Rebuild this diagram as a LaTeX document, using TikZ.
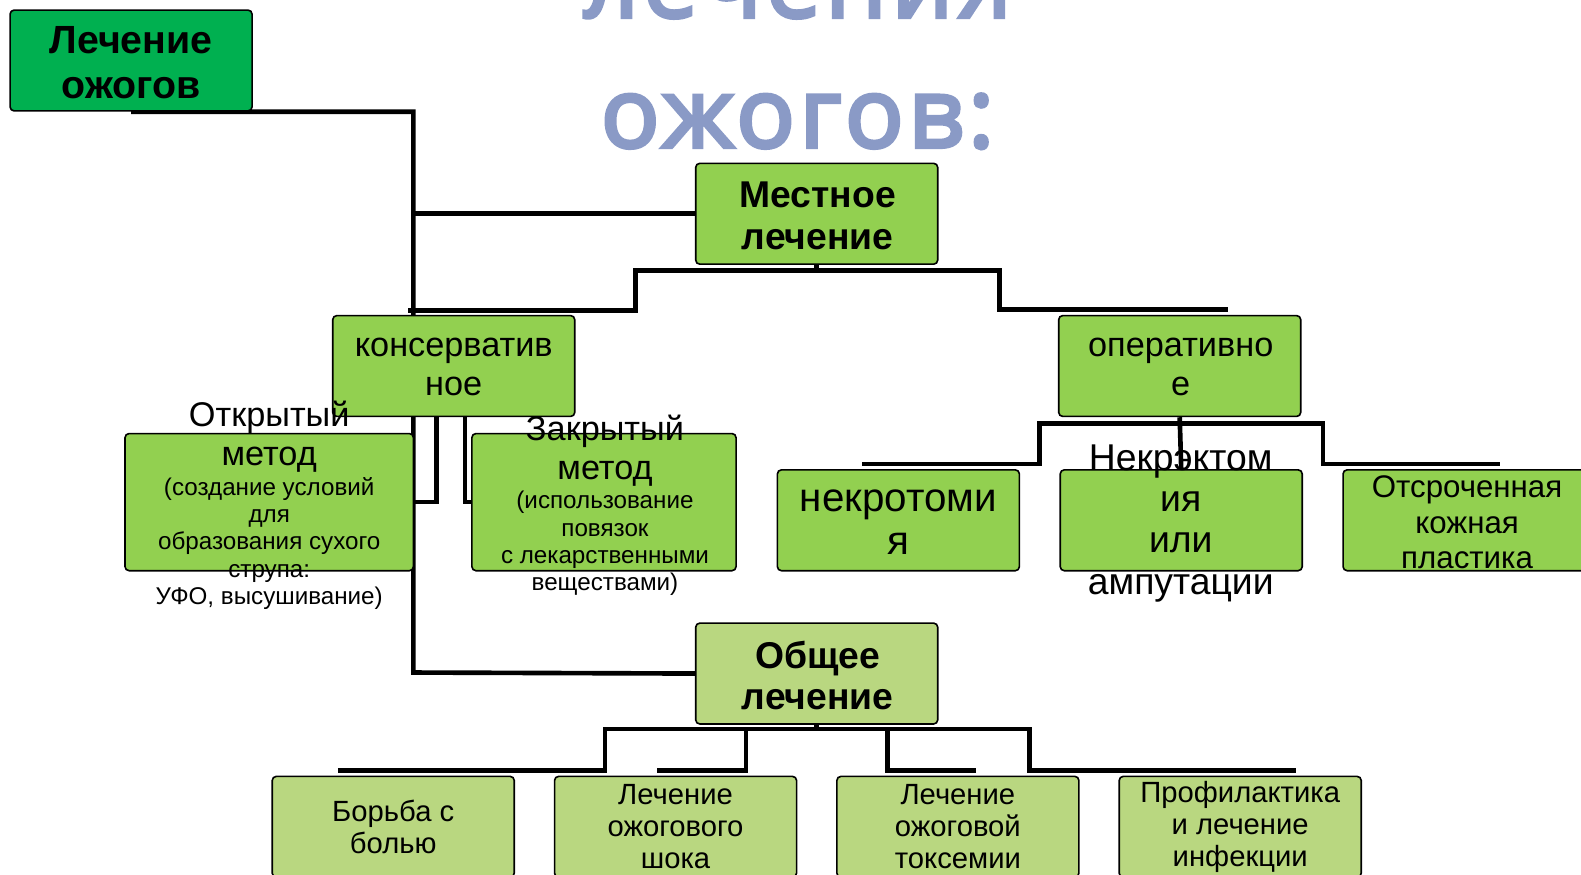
\documentclass[tikz,border=0pt]{standalone}
\usepackage{fontspec}
\setmainfont{Liberation Sans}
\newfontfamily\titlefont[LetterSpace=5, FakeBold=4]{Open Sans}
\usepackage{tikz}
\usetikzlibrary{positioning}
\usetikzlibrary{calc,backgrounds}

\definecolor{darkgr}{HTML}{00B050}
\definecolor{midgr}{HTML}{92D050}
\definecolor{palegr}{HTML}{B9D780}
\definecolor{titleblue}{HTML}{8A9AC6}

\tikzset{
  box/.style={draw=black, line width=0.8pt, rounded corners=2pt, minimum width=120pt, minimum height=50pt, inner sep=0pt},
  lbl/.style={align=center, inner sep=0pt},
  link/.style={line width=2.3pt},
  ttl/.style={font=\titlefont\fontsize{48}{48}\selectfont, text=titleblue, inner sep=0pt, anchor=base},
}

\begin{document}
\begin{tikzpicture}[x=0.5pt, y=-0.5pt]
 \useasboundingbox (0,0) rectangle (1568,867);
 \clip (0,0) rectangle (1568,867);

 % title
 \node[ttl] (t1) at (791,17) {лечения};
 \node[ttl] (t2) at (791,146) {ожогов:};

 % level 1
 \node[box, fill=darkgr] (root) at (130,60) {};
 \node[box, fill=midgr] (mest) at (810,212) {};
 \node[box, fill=palegr] (obsh) at (810,668) {};

 % level 2
 \node[box, fill=midgr] (kons) at (450,363) {};
 \node[box, fill=midgr] (oper) at (1170,363) {};

 % level 3
 \node[box, fill=midgr, minimum width=143pt, minimum height=68pt] (otkr) at (267,498) {};
 \node[box, fill=midgr, minimum width=131pt, minimum height=68pt] (zakr) at (599,498) {};
 \foreach \i/\n in {0/nekrot, 1/nekrekt, 2/otsr}
   \node[box, fill=midgr] (\n) at (891+\i*280.5,516) {};

 % bottom row
 \foreach \i/\n in {0/b1, 1/b2, 2/b3, 3/b4}
   \node[box, fill=palegr] (\n) at (390+\i*280,820) {};

 % texts
 \node[lbl, font=\bfseries\fontsize{19.5}{22}\selectfont] (troot) at (130,62) {Лечение\\ожогов};
 \node[lbl, font=\bfseries\fontsize{18.5}{20.5}\selectfont] (tmest) at (811,214) {Местное\\лечение};
 \node[lbl, font=\bfseries\fontsize{18.5}{20.5}\selectfont] (tobsh) at (811,670) {Общее\\лечение};
 \node[lbl, font=\fontsize{17}{19.5}\selectfont] (tkons) at (450,364) {консерватив\\ное};
 \node[lbl, font=\fontsize{17}{19.5}\selectfont] (toper) at (1171,364) {оперативно\\е};
 \node[lbl, font=\fontsize{20}{21.5}\selectfont] (tnekrot) at (891,518) {некротоми\\я};
 \node[lbl, font=\fontsize{18.5}{20.5}\selectfont] (tnekrekt) at (1171,519) {Некрэктом\\ия\\или\\ампутации};
 \node[lbl, font=\fontsize{15.5}{17.5}\selectfont] (totsr) at (1455,518) {Отсроченная\\кожная\\пластика};

 \node[lbl, font=\fontsize{17}{19.5}\selectfont] (totkr) at (267,433) {Открытый\\метод};
 \node[lbl, font=\fontsize{12}{13.5}\selectfont] (dotkr) at (267,539) {(создание условий\\для\\образования сухого\\струпа:\\УФО, высушивание)};
 \node[lbl, font=\fontsize{17}{19.5}\selectfont] (tzakr) at (600,447) {Закрытый\\метод};
 \node[lbl, font=\fontsize{12}{13.5}\selectfont] (dzakr) at (600,539) {(использование\\повязок\\с лекарственными\\веществами)};

 \foreach \n/\txt in {b1/{Борьба с\\болью}, b2/{Лечение\\ожогового\\шока}, b3/{Лечение\\ожоговой\\токсемии}, b4/{Профилактика\\и лечение\\инфекции}}
   \node[lbl, font=\fontsize{14.5}{16}\selectfont] (t\n) at (\n) {\txt};

 % lines
 \foreach \n/\x/\y in {tr/410/667, kT/405/308, mL/630/268, mR/991/268, oT/1218/307,
                       oL/1031/420, oR/1312/420, nL/855/460, nR/1488/460,
                       gL/600/723, gA/740/723, gB/880/723, gR/1021/723,
                       g1/335/764, g2/652/764, g3/968/764, g4/1285/764}
   \coordinate (\n) at (\x,\y);

 \begin{pgfonlayer}{background}
 \draw[link] (root.south) -| (tr) -- (obsh.west);
 \draw[link] (mest.west) -- (mest.west -| tr);

 \draw[link] (mest.south) -- (mest.south |- mL);
 \draw[link] (kT) -| (mL) -- (mR) |- (oT);

 \draw[link] ($(kons.south)+(-17,0)$) |- (otkr.east);
 \draw[link] ($(kons.south)+(11,0)$) |- (zakr.west);

 \draw[link] (oper.south) -- (nekrekt.north);
 \draw[link] (nL) -| (oL) -- (oR) |- (nR);

 \draw[link] (obsh.south) -- (obsh.south |- gL);
 \draw[link] (g1) -| (gL) -- (gR) |- (g4);
 \draw[link] (g2) -| (gA);
 \draw[link] (g3) -| (gB);
 \end{pgfonlayer}
\end{tikzpicture}
\end{document}
